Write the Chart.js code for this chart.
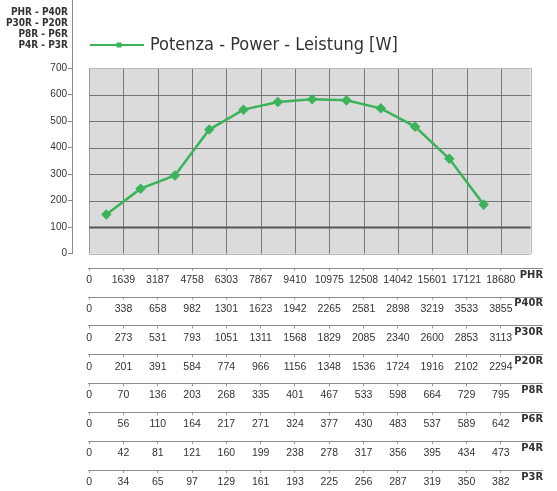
<!DOCTYPE html>
<html><head><meta charset="utf-8">
<script src="https://cdn.jsdelivr.net/npm/chart.js@4"></script>
<style>html,body{margin:0;padding:0;background:#fff}#wrap{width:557px;height:491px;position:relative}</style>
</head><body><div id="wrap"><canvas id="c"></canvas></div>
<script>
// ---- data ----
const seriesName = 'Potenza - Power - Leistung [W]';
const power = [148, 245, 295, 468, 543, 572, 582, 578, 548, 479, 358, 185];
const yTicks = [0, 100, 200, 300, 400, 500, 600, 700];
const headerLines = ['PHR - P40R', 'P30R - P20R', 'P8R - P6R', 'P4R - P3R'];
const rowNames = ['PHR', 'P40R', 'P30R', 'P20R', 'P8R', 'P6R', 'P4R', 'P3R'];
const rowPHR  = [0, 1639, 3187, 4758, 6303, 7867, 9410, 10975, 12508, 14042, 15601, 17121, 18680];
const rowP40R = [0, 338, 658, 982, 1301, 1623, 1942, 2265, 2581, 2898, 3219, 3533, 3855];
const rowP30R = [0, 273, 531, 793, 1051, 1311, 1568, 1829, 2085, 2340, 2600, 2853, 3113];
const rowP20R = [0, 201, 391, 584, 774, 966, 1156, 1348, 1536, 1724, 1916, 2102, 2294];
const rowP8R  = [0, 70, 136, 203, 268, 335, 401, 467, 533, 598, 664, 729, 795];
const rowP6R  = [0, 56, 110, 164, 217, 271, 324, 377, 430, 483, 537, 589, 642];
const rowP4R  = [0, 42, 81, 121, 160, 199, 238, 278, 317, 356, 395, 434, 473];
const rowP3R  = [0, 34, 65, 97, 129, 161, 193, 225, 256, 287, 319, 350, 382];
const rows = [rowPHR, rowP40R, rowP30R, rowP20R, rowP8R, rowP6R, rowP4R, rowP3R];

// ---- style ----
const GREEN = '#3cb35a';
const COND = '"DejaVu Sans Condensed", "Liberation Sans", sans-serif';
const SANS = '"Liberation Sans", Arial, sans-serif';
const X_MIN = -0.5, X_MAX = 13.23, PLOT_END = 12.87;

const points = power.map((v, i) => ({ x: i + 0.5, y: v }));

const frame = {
  id: 'frame',
  beforeDatasetsDraw(chart) {
    const { ctx, scales } = chart;
    const x = scales.x, y = scales.y;
    const x0 = x.getPixelForValue(0), x1 = x.getPixelForValue(PLOT_END);
    const yb = y.getPixelForValue(yTicks[0]), yt = y.getPixelForValue(yTicks[yTicks.length - 1]);
    ctx.save();
    ctx.fillStyle = '#dbdbdc';
    ctx.fillRect(x0, yt, x1 - x0, yb - yt);
    rowPHR.forEach((_, i) => {
      const px = Math.round(x.getPixelForValue(i)) + 0.5;
      ctx.strokeStyle = i === 0 ? '#9a9a9a' : '#7a7a7a';
      ctx.lineWidth = 1;
      ctx.beginPath(); ctx.moveTo(px, yt); ctx.lineTo(px, yb); ctx.stroke();
    });
    yTicks.forEach((v, i) => {
      const py = Math.round(y.getPixelForValue(v)) + 0.5;
      let c = '#737373', w = 1;
      if (v === 100) { c = '#555'; w = 2; }
      if (i === yTicks.length - 1 || i === 0) { c = '#b8b8b8'; }
      ctx.strokeStyle = c; ctx.lineWidth = w;
      ctx.beginPath(); ctx.moveTo(x0, py); ctx.lineTo(x1, py); ctx.stroke();
    });
    ctx.strokeStyle = '#b8b8b8'; ctx.lineWidth = 1;
    ctx.beginPath(); ctx.moveTo(Math.round(x1) + 0.5, yt); ctx.lineTo(Math.round(x1) + 0.5, yb); ctx.stroke();
    ctx.restore();
  },
  afterDraw(chart) {
    const { ctx, scales, chartArea } = chart;
    const x = scales.x;
    ctx.save();
    ctx.strokeStyle = '#8a8a8a'; ctx.lineWidth = 1;
    const ax = Math.round(chartArea.left) + 0.5;
    ctx.beginPath(); ctx.moveTo(ax, 0); ctx.lineTo(ax, chartArea.top); ctx.stroke();
    ctx.fillStyle = '#333';
    ctx.font = 'bold 10px ' + COND;
    ctx.textAlign = 'right'; ctx.textBaseline = 'middle';
    headerLines.forEach((t, i) => ctx.fillText(t, 68, 12 + i * 11.2));
    rowNames.forEach((name, i) => {
      const s = scales['r' + i];
      const py = Math.round(s.top) + 0.5;
      ctx.strokeStyle = '#8c8c8c'; ctx.lineWidth = 1.2;
      ctx.beginPath(); ctx.moveTo(x.getPixelForValue(0) - 1, py); ctx.lineTo(chartArea.right, py); ctx.stroke();
      ctx.fillStyle = '#333';
      ctx.font = 'bold 11px ' + COND;
      ctx.textAlign = 'right'; ctx.textBaseline = 'middle';
      ctx.fillText(name, chartArea.right, s.top + 7);
    });
    const ly = 45;
    ctx.strokeStyle = GREEN; ctx.lineWidth = 2;
    ctx.beginPath(); ctx.moveTo(90, ly); ctx.lineTo(144, ly); ctx.stroke();
    ctx.fillStyle = GREEN;
    ctx.fillRect(116.5, ly - 2.5, 5, 5);
    ctx.fillStyle = '#333';
    ctx.font = '18px ' + COND;
    ctx.textAlign = 'left'; ctx.textBaseline = 'middle';
    ctx.fillText(seriesName, 150, ly);
    ctx.restore();
  }
};

const scales = {
  x: {
    type: 'linear', position: 'bottom', min: X_MIN, max: X_MAX, weight: 0,
    grid: { display: false }, border: { display: false }, ticks: { display: false },
    afterFit(s) { s.height = 14; }
  },
  y: {
    type: 'linear', min: 0, max: 700,
    afterBuildTicks(s) { s.ticks = yTicks.map(v => ({ value: v })); },
    grid: { display: true, drawOnChartArea: false, drawTicks: true, tickLength: 4, color: '#8a8a8a' },
    border: { display: true, color: '#8a8a8a', width: 1 },
    ticks: { padding: 1, color: '#333', font: { family: SANS, size: 10 } },
    afterFit(s) { s.width = 72; }
  }
};
rows.forEach((vals, i) => {
  scales['r' + i] = {
    type: 'linear', position: 'bottom', min: X_MIN, max: X_MAX, weight: i + 1,
    afterBuildTicks(s) { s.ticks = vals.map((_, k) => ({ value: k })); },
    grid: { display: true, drawOnChartArea: false, drawTicks: true, tickLength: 3, color: '#999' },
    border: { display: false },
    ticks: {
      autoSkip: false, maxRotation: 0, padding: 3, color: '#333',
      font: { family: SANS, size: 10.5 },
      callback: (v) => vals[v] !== undefined ? String(vals[v]) : ''
    },
    afterFit(s) { s.height = i === rows.length - 1 ? 21 : 28.9; }
  };
});

new Chart(document.getElementById('c'), {
  type: 'line',
  data: {
    datasets: [{
      label: seriesName, data: points,
      borderColor: GREEN, backgroundColor: GREEN, borderWidth: 2.5,
      pointStyle: 'rectRot', pointRadius: 3.5, pointBackgroundColor: GREEN, pointBorderColor: GREEN,
      tension: 0
    }]
  },
  options: {
    responsive: true, maintainAspectRatio: false, animation: false,
    layout: { padding: { top: 68, right: 14, left: 0, bottom: 0 } },
    plugins: { legend: { display: false }, tooltip: { enabled: false } },
    scales
  },
  plugins: [frame]
});
</script></body></html>
